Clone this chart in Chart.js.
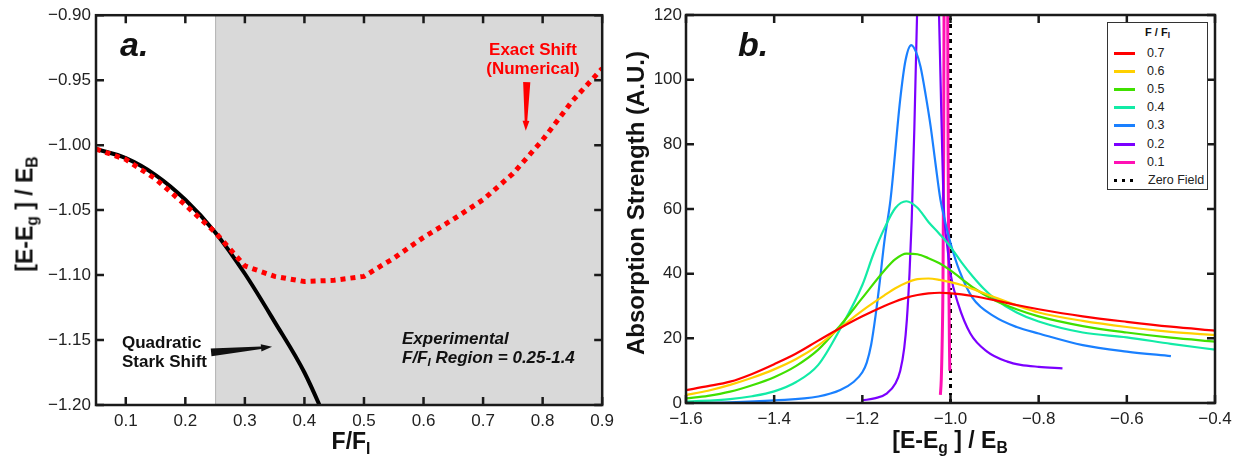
<!DOCTYPE html>
<html>
<head>
<meta charset="utf-8">
<script src="https://cdn.jsdelivr.net/npm/chart.js@4.4.1/dist/chart.umd.min.js"></script>
<style>
  html, body { margin: 0; padding: 0; background: #fff; }
  #wrap { position: relative; width: 1243px; height: 458px; overflow: hidden;
          font-family: "Liberation Sans", Arial, Helvetica, sans-serif; color: #111; }
  canvas { position: absolute; top: 0; }
  .t { position: absolute; white-space: nowrap; }
  .t sub { font-size: 0.68em; vertical-align: baseline; position: relative; top: 0.32em; }
  .ttl { font-weight: bold; font-size: 23px; line-height: 1; }
  .note { font-weight: bold; font-size: 17px; line-height: 18.5px; }
  .panel { font-weight: bold; font-style: italic; font-size: 34px; line-height: 1; }
  #legend { position: absolute; left: 1107px; top: 22px; width: 101px; height: 168px;
            border: 1.5px solid #333; background: #fff; box-sizing: border-box; }
  #legend .lt { position: absolute; left: 0; width: 100%; top: 3px; text-align: center;
                font-weight: bold; font-size: 11px; }
  #legend .row { position: absolute; left: 0; width: 100%; height: 14px; }
  #legend .sw { position: absolute; left: 6px; width: 21px; top: 6px; height: 3px; }
  #legend .lab { position: absolute; left: 39px; top: 0; font-size: 12.5px; line-height: 14px; color: #222; }
</style>
</head>
<body>
<div id="wrap">
  <canvas id="chartA" width="620" height="458" style="left:0"></canvas>
  <canvas id="chartB" width="623" height="458" style="left:620px"></canvas>

  <div class="t ttl" style="left:25px;top:214px;transform:translate(-50%,-50%) rotate(-90deg)">[E-E<sub>g</sub> ] / E<sub>B</sub></div>
  <div class="t ttl" style="left:351px;top:441px;transform:translate(-50%,-50%)">F/F<sub>I</sub></div>
  <div class="t ttl" style="left:636px;top:203px;font-size:24px;transform:translate(-50%,-50%) rotate(-90deg)">Absorption Strength (A.U.)</div>
  <div class="t ttl" style="left:950px;top:440px;transform:translate(-50%,-50%)">[E-E<sub>g</sub> ] / E<sub>B</sub></div>

  <div class="t panel" style="left:120px;top:44px;transform:translate(0,-50%)">a.</div>
  <div class="t panel" style="left:738px;top:44px;transform:translate(0,-50%)">b.</div>

  <div class="t note" style="left:533px;top:59px;transform:translate(-50%,-50%);color:#ff0000;text-align:center">Exact Shift<br>(Numerical)</div>
  <div class="t note" style="left:122px;top:352px;transform:translate(0,-50%);color:#111">Quadratic<br>Stark Shift</div>
  <div class="t note" style="left:402px;top:349px;transform:translate(0,-50%);font-style:italic;color:#111">Experimental<br>F/F<sub>I</sub> Region = 0.25-1.4</div>

  <div id="legend"><div class="lt">F / F<sub style="font-size:0.75em;vertical-align:baseline;position:relative;top:0.3em">I</sub></div></div>
</div>

<script>
// ---------- Panel a: exciton energy shift vs. normalised field ----------
const fieldQuad = [0.05, 0.10, 0.15, 0.20, 0.25, 0.30, 0.35, 0.40, 0.45];
const quadShift = [-1.003, -1.010, -1.023, -1.042, -1.067, -1.099, -1.136, -1.175, -1.226];

const fieldExact = [0.05, 0.10, 0.15, 0.20, 0.25, 0.30, 0.35, 0.40, 0.45, 0.50,
                    0.55, 0.60, 0.65, 0.70, 0.75, 0.80, 0.85, 0.90];
const exactShift = [-1.003, -1.011, -1.026, -1.046, -1.067, -1.093, -1.101, -1.105, -1.104, -1.101,
                    -1.087, -1.071, -1.057, -1.042, -1.022, -0.996, -0.966, -0.941];

const experimentalRange = [0.25, 0.90];
const xTicksA = [0.1, 0.2, 0.3, 0.4, 0.5, 0.6, 0.7, 0.8, 0.9];
const yTicksA = [-0.90, -0.95, -1.00, -1.05, -1.10, -1.15, -1.20];

// ---------- Panel b: absorption spectra for several field strengths ----------
const fieldLabels = ['0.7', '0.6', '0.5', '0.4', '0.3', '0.2', '0.1'];

const energyBroad = [-1.6, -1.55, -1.5, -1.45, -1.4, -1.35, -1.3, -1.25, -1.2, -1.15, -1.125, -1.1,
                     -1.075, -1.05, -1.025, -1.0, -0.975, -0.95, -0.9, -0.85, -0.8, -0.7, -0.6, -0.5, -0.4];
const abs07 = [4.0, 5.2, 6.6, 9.0, 12.0, 15.3, 19.3, 23.2, 26.8, 30.0, 31.4, 32.6,
               33.4, 33.9, 34.1, 33.9, 33.6, 33.1, 31.8, 30.3, 29.0, 26.8, 25.1, 23.6, 22.4];
const abs06 = [2.5, 3.8, 5.6, 7.8, 10.4, 13.6, 17.8, 23.3, 28.6, 33.3, 35.5, 37.2,
               38.3, 38.5, 38.1, 37.4, 36.5, 35.3, 32.7, 30.2, 28.0, 25.4, 23.5, 22.0, 21.0];
const abs05 = [1.4, 2.2, 3.5, 5.5, 8.0, 11.5, 16.5, 24.0, 32.5, 41.0, 44.5, 46.2,
               46.0, 44.8, 43.2, 41.0, 38.4, 35.8, 31.8, 29.0, 26.8, 23.8, 21.8, 20.2, 19.0];

const energy04 = [-1.6, -1.5, -1.45, -1.4, -1.35, -1.3, -1.25, -1.2, -1.175, -1.15, -1.125, -1.1,
                  -1.075, -1.05, -1.025, -1.0, -0.975, -0.95, -0.925, -0.9, -0.85, -0.8, -0.7, -0.6, -0.5, -0.4];
const abs04 = [0.4, 1.2, 2.1, 3.6, 6.5, 11.8, 23.0, 36.5, 46.0, 54.0, 60.3, 62.4,
               60.4, 56.0, 52.3, 48.3, 43.5, 39.2, 35.4, 32.3, 28.0, 25.2, 21.8, 20.3, 18.3, 16.5];

const energy03 = [-1.6, -1.5, -1.4, -1.3, -1.25, -1.22, -1.2, -1.19, -1.18, -1.17, -1.16, -1.15,
                  -1.136, -1.114, -1.102, -1.089, -1.078, -1.068, -1.056, -1.045, -1.034, -1.023,
                  -1.012, -1.0, -0.98, -0.95, -0.9, -0.85, -0.8, -0.7, -0.6, -0.5];
const abs03 = [0.0, 0.2, 0.8, 2.0, 4.0, 6.5, 9.5, 12.5, 18.0, 27.0, 38.0, 50.0,
               63.0, 94.0, 106.0, 110.7, 108.5, 104.0, 95.0, 85.5, 74.0, 63.0,
               56.0, 49.5, 41.0, 32.5, 26.7, 23.5, 21.5, 17.9, 15.9, 14.5];

const energy02 = [-1.2, -1.17, -1.144, -1.125, -1.114, -1.105, -1.099, -1.093, -1.088, -1.082,
                  -1.075, -1.065, -1.05, -1.038, -1.026, -1.02, -1.016, -1.006, -1.0, -0.983,
                  -0.955, -0.917, -0.871, -0.841, -0.8, -0.746];
const abs02 = [0.8, 1.5, 3.0, 6.0, 10.0, 17.0, 25.7, 40.0, 56.6, 85.0,
               125.0, 200.0, 260.0, 200.0, 120.0, 85.0, 63.0, 47.0, 40.0, 30.8,
               21.5, 15.9, 12.8, 11.8, 11.2, 10.7];

const energy01 = [-1.023, -1.021, -1.019, -1.017, -1.0155, -1.0145, -1.011, -1.0065, -1.0055, -1.004, -1.0025, -1.0016];
const abs01 = [2.5, 7.0, 18.0, 38.0, 78.0, 130.0, 400.0, 130.0, 80.0, 42.0, 19.0, 10.0];

const zeroFieldEnergy = [-1.0, -1.0];
const zeroFieldLevel = [0, 120];

const xTicksB = [-1.6, -1.4, -1.2, -1.0, -0.8, -0.6, -0.4];
const yTicksB = [0, 20, 40, 60, 80, 100, 120];

// ---------- helpers ----------
const pts = (xs, ys) => xs.map((x, i) => ({ x: x, y: ys[i] }));
const minus = s => s.replace('-', '\u2212');

Chart.defaults.font.family = '"Liberation Sans", Arial, Helvetica, sans-serif';
Chart.defaults.color = '#222';

// Inside tick marks on all four sides plus the closed frame.
const framePlugin = {
  id: 'frame',
  afterDatasetsDraw(chart) {
    const { ctx, chartArea: a, scales } = chart;
    const L = 8;
    ctx.save();
    ctx.strokeStyle = '#1a1a1a';
    ctx.lineWidth = 2.5;
    ctx.beginPath();
    scales.x.ticks.forEach(t => {
      const px = scales.x.getPixelForValue(t.value);
      ctx.moveTo(px, a.bottom); ctx.lineTo(px, a.bottom - L);
      ctx.moveTo(px, a.top); ctx.lineTo(px, a.top + L);
    });
    scales.y.ticks.forEach(t => {
      const py = scales.y.getPixelForValue(t.value);
      ctx.moveTo(a.left, py); ctx.lineTo(a.left + L, py);
      ctx.moveTo(a.right, py); ctx.lineTo(a.right - L, py);
    });
    ctx.stroke();
    ctx.strokeRect(a.left, a.top, a.right - a.left, a.bottom - a.top);
    ctx.restore();
  }
};

// Grey band marking the experimentally accessible field range.
const bandPlugin = {
  id: 'band',
  beforeDatasetsDraw(chart, args, opts) {
    if (!opts.range) return;
    const { ctx, chartArea: a, scales } = chart;
    const x0 = scales.x.getPixelForValue(opts.range[0]);
    const x1 = scales.x.getPixelForValue(opts.range[1]);
    ctx.save();
    ctx.fillStyle = '#d9d9d9';
    ctx.fillRect(x0, a.top, x1 - x0, a.bottom - a.top);
    ctx.strokeStyle = '#b4b4b4';
    ctx.lineWidth = 1;
    ctx.beginPath(); ctx.moveTo(x0 + 0.5, a.top); ctx.lineTo(x0 + 0.5, a.bottom); ctx.stroke();
    ctx.restore();
  }
};

// Tapered callout arrows, anchored in data units.
const arrowPlugin = {
  id: 'arrows',
  afterDatasetsDraw(chart, args, opts) {
    if (!opts.list) return;
    const { ctx, scales } = chart;
    opts.list.forEach(ar => {
      const x0 = scales.x.getPixelForValue(ar.from[0]), y0 = scales.y.getPixelForValue(ar.from[1]);
      const x1 = scales.x.getPixelForValue(ar.to[0]), y1 = scales.y.getPixelForValue(ar.to[1]);
      const len = Math.hypot(x1 - x0, y1 - y0);
      const ux = (x1 - x0) / len, uy = (y1 - y0) / len;
      const nx = -uy, ny = ux;
      const bx = x1 - ux * ar.head, by = y1 - uy * ar.head;
      ctx.save();
      ctx.fillStyle = ar.color;
      ctx.beginPath();
      ctx.moveTo(x0 + nx * ar.tail, y0 + ny * ar.tail);
      ctx.lineTo(bx + nx * ar.neck, by + ny * ar.neck);
      ctx.lineTo(bx + nx * ar.wing, by + ny * ar.wing);
      ctx.lineTo(x1, y1);
      ctx.lineTo(bx - nx * ar.wing, by - ny * ar.wing);
      ctx.lineTo(bx - nx * ar.neck, by - ny * ar.neck);
      ctx.lineTo(x0 - nx * ar.tail, y0 - ny * ar.tail);
      ctx.closePath();
      ctx.fill();
      ctx.restore();
    });
  }
};

const tickFont = { size: 17 };

// ---------- Panel a ----------
new Chart(document.getElementById('chartA'), {
  type: 'line',
  data: {
    datasets: [
      {
        label: 'Exact Shift (Numerical)',
        data: pts(fieldExact, exactShift),
        borderColor: '#ff0000', borderWidth: 5, borderDash: [5, 5], borderCapStyle: 'butt',
        pointRadius: 0, tension: 0, clip: 0
      },
      {
        label: 'Quadratic Stark Shift',
        data: pts(fieldQuad, quadShift),
        borderColor: '#000000', borderWidth: 4, pointRadius: 0,
        cubicInterpolationMode: 'monotone', clip: 0
      }
    ]
  },
  options: {
    responsive: false, animation: false, devicePixelRatio: 1,
    layout: { padding: { left: 0, right: 15, top: 15, bottom: 0 } },
    plugins: {
      legend: { display: false }, tooltip: { enabled: false },
      band: { range: experimentalRange },
      arrows: { list: [
        { from: [0.2433, -1.1595], to: [0.3456, -1.1552], color: '#111', tail: 4, neck: 1.3, wing: 3.6, head: 11 },
        { from: [0.7733, -0.9515], to: [0.7717, -0.9890], color: '#ff0000', tail: 3.6, neck: 1.3, wing: 3.4, head: 10 }
      ] }
    },
    scales: {
      x: {
        type: 'linear', min: 0.05, max: 0.9,
        grid: { display: false, drawTicks: false }, border: { display: false },
        afterBuildTicks: s => { s.ticks = xTicksA.map(v => ({ value: v })); },
        afterFit: s => { s.height = 53; },
        ticks: { font: tickFont, padding: 6, autoSkip: false, maxRotation: 0,
                 callback: v => minus(Number(v).toFixed(1)) }
      },
      y: {
        type: 'linear', min: -1.20, max: -0.90,
        grid: { display: false, drawTicks: false }, border: { display: false },
        afterBuildTicks: s => { s.ticks = yTicksA.map(v => ({ value: v })); },
        afterFit: s => { s.width = 96; },
        ticks: { font: tickFont, padding: 5, autoSkip: false,
                 callback: v => minus(Number(v).toFixed(2)) }
      }
    }
  },
  plugins: [bandPlugin, arrowPlugin, framePlugin]
});

// ---------- Panel b ----------
const seriesColors = ['#ff0000', '#ffd000', '#40e000', '#12eba6', '#1a80ff', '#7b00ff', '#ff10b4'];
const seriesX = [energyBroad, energyBroad, energyBroad, energy04, energy03, energy02, energy01];
const seriesY = [abs07, abs06, abs05, abs04, abs03, abs02, abs01];

const spectra = fieldLabels.map((lab, i) => ({
  label: lab,
  data: pts(seriesX[i], seriesY[i]),
  borderColor: seriesColors[i],
  borderWidth: i === 6 ? 3 : 2.2,
  pointRadius: 0,
  cubicInterpolationMode: 'monotone',
  clip: { left: 0, top: 0, right: 0, bottom: 4 }
}));
spectra.push({
  label: 'Zero Field',
  data: pts(zeroFieldEnergy, zeroFieldLevel),
  borderColor: '#000000', borderWidth: 3, borderDash: [4, 4, 2, 5], borderCapStyle: 'butt',
  pointRadius: 0, clip: 0
});

new Chart(document.getElementById('chartB'), {
  type: 'line',
  data: { datasets: spectra },
  options: {
    responsive: false, animation: false, devicePixelRatio: 1,
    layout: { padding: { left: 0, right: 28, top: 15, bottom: 0 } },
    plugins: { legend: { display: false }, tooltip: { enabled: false } },
    scales: {
      x: {
        type: 'linear', min: -1.6, max: -0.4,
        grid: { display: false, drawTicks: false }, border: { display: false },
        afterBuildTicks: s => { s.ticks = xTicksB.map(v => ({ value: v })); },
        afterFit: s => { s.height = 55; },
        ticks: { font: tickFont, padding: 6, autoSkip: false, maxRotation: 0,
                 callback: v => minus(Number(v).toFixed(1)) }
      },
      y: {
        type: 'linear', min: 0, max: 120,
        grid: { display: false, drawTicks: false }, border: { display: false },
        afterBuildTicks: s => { s.ticks = yTicksB.map(v => ({ value: v })); },
        afterFit: s => { s.width = 66; },
        ticks: { font: tickFont, padding: 4, autoSkip: false,
                 callback: v => String(v) }
      }
    }
  },
  plugins: [framePlugin]
});

// ---------- Legend for panel b ----------
const legend = document.getElementById('legend');
const legendItems = fieldLabels.map((lab, i) => ({ label: lab, color: seriesColors[i], dotted: false }))
  .concat([{ label: 'Zero Field', color: '#000', dotted: true }]);
legendItems.forEach((it, i) => {
  const row = document.createElement('div');
  row.className = 'row';
  row.style.top = (23 + i * 18.1) + 'px';
  const sw = document.createElement('div');
  sw.className = 'sw';
  if (it.dotted) {
    sw.style.background = 'repeating-linear-gradient(90deg,#000 0 3px,transparent 3px 8px)';
    sw.style.width = '19px';
  } else {
    sw.style.background = it.color;
  }
  const lb = document.createElement('div');
  lb.className = 'lab';
  lb.textContent = it.label;
  if (it.dotted) lb.style.left = '40px';
  row.appendChild(sw); row.appendChild(lb);
  legend.appendChild(row);
});
</script>
</body>
</html>
